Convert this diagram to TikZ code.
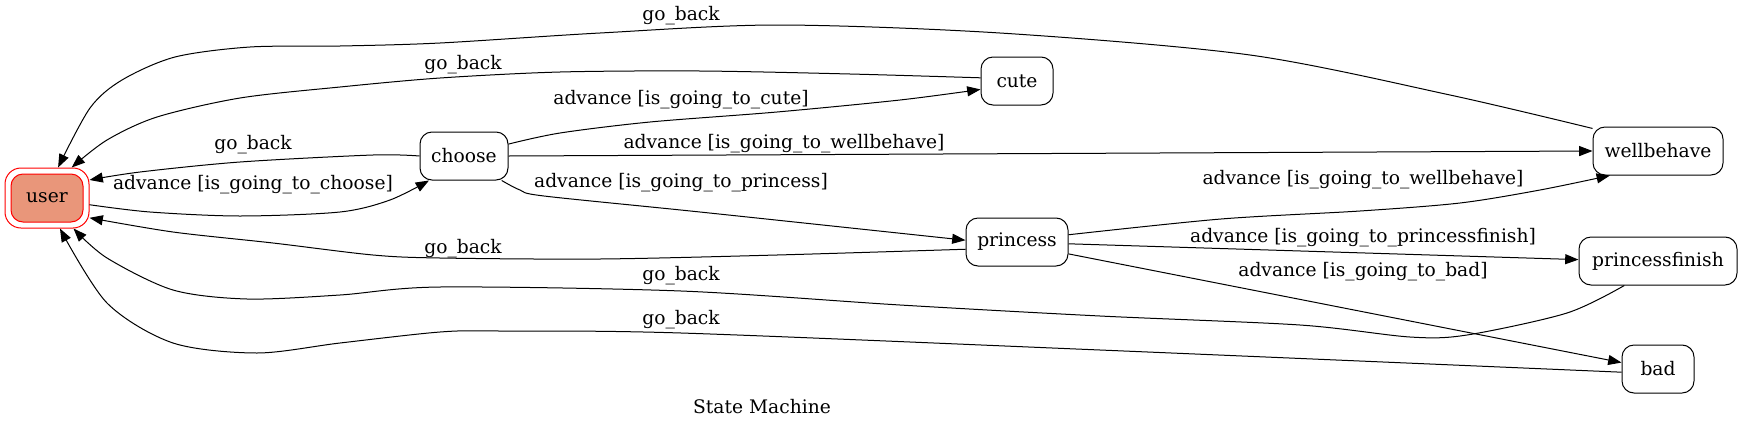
\documentclass[tikz,border=0pt]{standalone}
\usepackage{fontspec}
\setmainfont{DejaVu Serif}
\usetikzlibrary{arrows.meta}
\definecolor{salmonfill}{RGB}{233,150,122}
\begin{document}
\begin{tikzpicture}[x=0.75pt,y=-0.75pt, font=\fontsize{14}{16}\selectfont,
  state/.style={draw, line width=0.75pt, rounded corners=9pt, minimum height=36pt, inner sep=0pt},
  lbl/.style={inner sep=0pt},
  edge/.style={line width=0.75pt, -{Triangle[length=10pt,width=7.5pt]}},
  sm/.style={smooth, tension=0.5}]
\useasboundingbox (0,0) rectangle (1741,429);
% nodes
\node[draw=red, line width=0.75pt, rounded corners=12pt, minimum width=63pt, minimum height=45pt, inner sep=0pt] (user) at (47,198) {};
\node[state, draw=red, fill=salmonfill, minimum width=54pt] (userin) at (user.center) {user};
\node[state, minimum width=66pt] (choose) at (464,156) {choose};
\node[state, minimum width=54pt] (cute) at (1017,81) {cute};
\node[state, minimum width=97.5pt] (wellbehave) at (1658,151) {wellbehave};
\node[state, minimum width=76.5pt] (princess) at (1017,242) {princess};
\node[state, minimum width=118.5pt] (princessfinish) at (1658,261) {princessfinish};
\node[state, minimum width=54pt] (bad) at (1658,369) {bad};
\node[lbl] (title) at (762,407) {State Machine};
% edges
\draw[edge] plot[sm] coordinates {(wellbehave.161) (1450,95) (1250,55) (1000,33) (777,25) (600,33) (440,43) (340,46) (250,47) (175,57) (122,80) (90,108) (user.70)};
\draw[edge] plot[sm] coordinates {(cute.175) (850,74) (700,71) (560,72) (440,78) (340,87) (240,98) (157,117) (107,140) (user.51)};
\draw[edge] plot[sm] coordinates {(choose.180) (373,155) (240,162) (140,172) (user.23)};
\draw[edge] plot[sm] coordinates {(user.-9) (150,212) (240,216) (340,212) (390,200) (choose.-145)};
\draw[edge] plot[sm] coordinates {(choose.15) (560,133) (650,122) (777,112) (900,100) (cute.-167.5)};
\draw[edge] (choose.east) -- (wellbehave.west);
\draw[edge] plot[sm] coordinates {(choose.-33) (520,190) (544,196) (700,212) (princess.178)};
\draw[edge] plot[sm] coordinates {(princess.-172) (777,255) (600,259) (440,258) (373,255) (273,243) (173,232) (user.-25)};
\draw[edge] plot[sm] coordinates {(princess.8) (1221,219) (1360,211) (1460,203) (1540,190) (wellbehave.-153)};
\draw[edge] (princess.-2) -- (princessfinish.179);
\draw[edge] (princess.-13) -- (bad.170.5);
\draw[edge] plot[sm] coordinates {(princessfinish.-144) (1567,313) (1467,335) (1410,337) (1300,325) (1100,316) (900,305) (681,291) (440,287) (340,295) (247,299) (173,290) (107,258) (user.-49)};
\draw[edge] plot[sm] coordinates {(bad.-175) (1100,350) (681,333) (500,331) (440,332) (340,343) (257,353) (173,343) (107,303) (user.-67)};
% labels
\node[lbl] (l1) at (681,16) {go\_back};
\node[lbl] (l2) at (463,65) {go\_back};
\node[lbl] (l3) at (681,100) {advance [is\_going\_to\_cute]};
\node[lbl] (l4) at (253,145) {go\_back};
\node[lbl] (l5) at (784,144) {advance [is\_going\_to\_wellbehave]};
\node[lbl] (l6) at (253,185) {advance [is\_going\_to\_choose]};
\node[lbl] (l7) at (681,183) {advance [is\_going\_to\_princess]};
\node[lbl] (l8) at (1363,180) {advance [is\_going\_to\_wellbehave]};
\node[lbl] (l9) at (463,249) {go\_back};
\node[lbl] (l10) at (1363,238) {advance [is\_going\_to\_princessfinish]};
\node[lbl] (l11) at (681,276) {go\_back};
\node[lbl] (l12) at (1363,272) {advance [is\_going\_to\_bad]};
\node[lbl] (l13) at (681,320) {go\_back};
\end{tikzpicture}
\end{document}
